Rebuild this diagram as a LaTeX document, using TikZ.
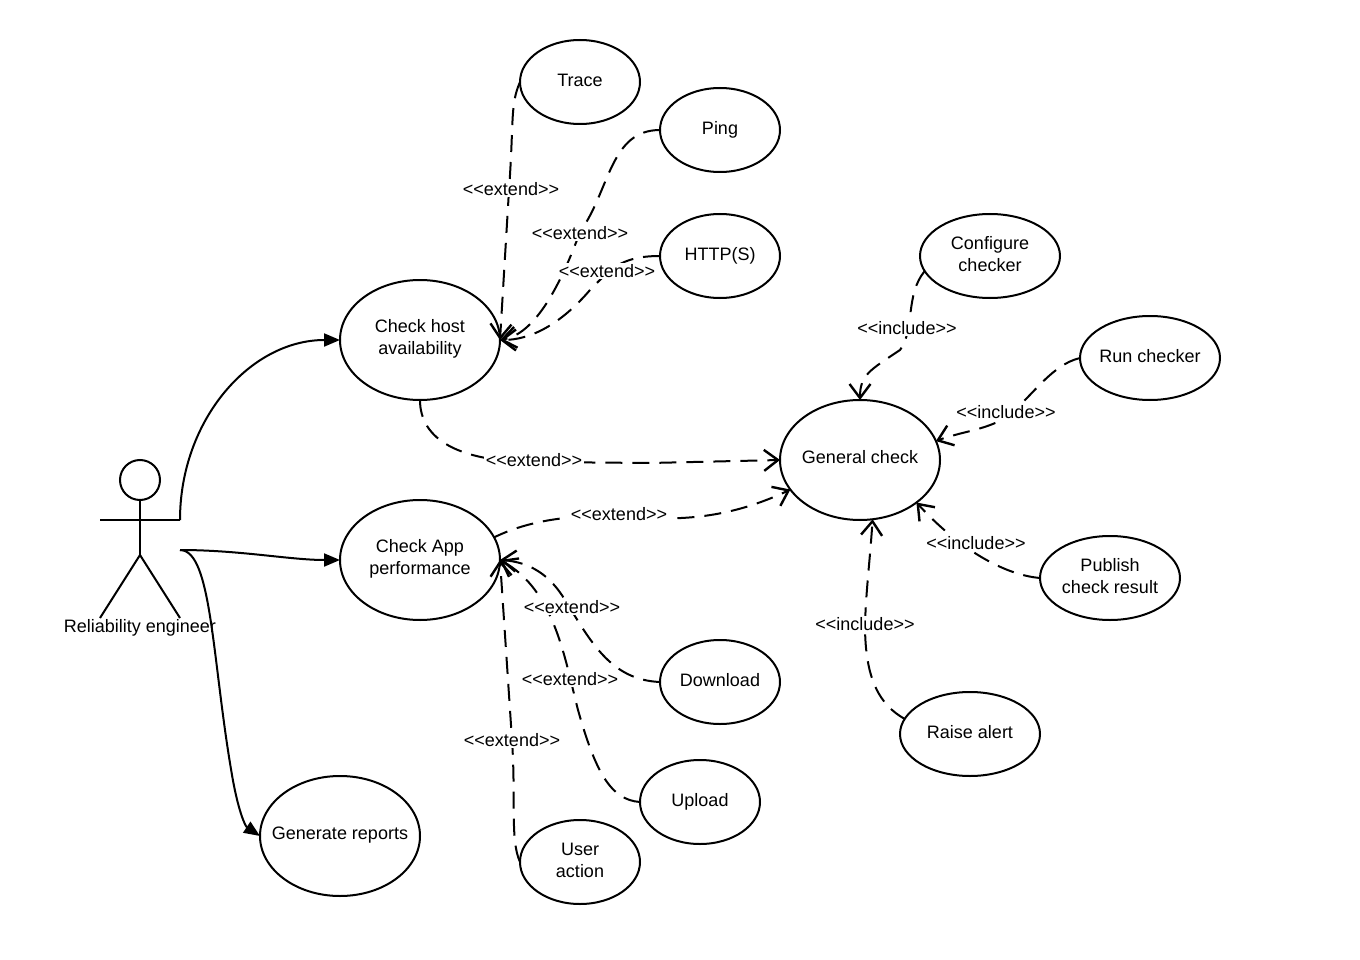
\documentclass[tikz,border=0pt]{standalone}
\usepackage{fontspec}
\setmainfont{Liberation Sans}
\usetikzlibrary{arrows.meta,shapes.geometric}
\newcommand\uct[2][-4pt]{\makebox[0pt]{\raisebox{#1}[0pt][0pt]{\begin{tabular}[c]{@{}c@{}}#2\end{tabular}}}}
\tikzset{
  x=1pt,y=-1pt,
  uc/.style={draw=black,line width=2pt,ellipse,inner sep=0pt,outer sep=0pt,minimum width=#1,align=center,font=\fontsize{18}{22}\selectfont},
  uc/.default=120pt,
  txt/.style={inner sep=1pt,font=\fontsize{18}{22}\selectfont,text=black},
  lbl/.style={fill=white,inner sep=1.5pt,font=\fontsize{18}{22}\selectfont,text=black},
  dep/.style={draw=black,line width=2pt,dash pattern=on 17pt off 10pt,-{Straight Barb[length=14pt,width=21pt,line width=2.4pt]}},
  assoc/.style={draw=black,line width=2pt,-{Triangle[length=16pt,width=13pt]}},
  stick/.style={draw=black,line width=2pt},
}
\begin{document}
\begin{tikzpicture}
\useasboundingbox (0,0) rectangle (1360,960);
% use cases
\node[uc=120pt,minimum height=84pt] (trace) at (580,82) {\uct{Trace}};
\node[uc=120pt,minimum height=84pt] (ping) at (720,130) {\uct{Ping}};
\node[uc=120pt,minimum height=84pt] (http) at (720,256) {\uct{HTTP(S)}};
\node[uc=160pt,minimum height=120pt] (avail) at (420,340) {\uct[-3pt]{Check host\\availability}};
\node[uc=160pt,minimum height=120pt] (perf) at (420,560) {\uct[-3pt]{Check App\\performance}};
\node[uc=160pt,minimum height=120pt] (gen) at (860,460) {\uct[-3pt]{General check}};
\node[uc=160pt,minimum height=120pt] (rep) at (340,836) {\uct[-3pt]{Generate reports}};
\node[uc=140pt,minimum height=84pt] (conf) at (990,256) {\uct{Configure\\checker}};
\node[uc=140pt,minimum height=84pt] (run) at (1150,358) {\uct{Run checker}};
\node[uc=140pt,minimum height=84pt] (pub) at (1110,578) {\uct{Publish\\check result}};
\node[uc=140pt,minimum height=84pt] (alert) at (970,734) {\uct{Raise alert}};
\node[uc=120pt,minimum height=84pt] (down) at (720,682) {\uct{Download}};
\node[uc=120pt,minimum height=84pt] (up) at (700,802) {\uct{Upload}};
\node[uc=120pt,minimum height=84pt] (user) at (580,862) {\uct{User\\action}};
% actor
\node[draw=black,line width=2pt,circle,minimum size=40pt,inner sep=0pt,outer sep=0pt] (head) at (140,480) {};
\coordinate (hip) at (140,555);
\coordinate (handL) at (100,520);
\coordinate (handR) at (180,520);
\coordinate (footL) at (100,618);
\coordinate (footR) at (180,618);
\coordinate (assocB) at (180,550);
\draw[stick] (head.south) -- (hip);
\draw[stick] (handL) -- (handR);
\draw[stick] (footL) -- (hip) -- (footR);
% solid associations
\draw[assoc] (handR) .. controls (180,420) and (250,340) .. (avail.west);
\draw[assoc] (assocB) .. controls (240,550) and (290,560) .. (perf.west);
\draw[assoc] (assocB) .. controls (212,550) and (212,660) .. (232,775) .. controls (238,810) and (245,826) .. (rep.west);
% extend / include
\draw[dep] (trace.west) .. controls (510,105) and (514,120) .. (509,190) -- (avail.east);
\draw[dep] (ping.west) .. controls (610,130) and (610,190) .. (580,232) .. controls (555,300) and (530,335) .. (avail.east);
\draw[dep] (http.west) .. controls (620,256) and (610,270) .. (590,290) .. controls (560,325) and (530,340) .. (avail.east);
\draw[dep] (avail.south) .. controls (420,440) and (460,462) .. (535,462) -- (650,463) -- (gen.west);
\draw[dep,dash phase=2.5pt] (perf.17) .. controls (530,520) and (570,515) .. (620,516) .. controls (680,522) and (730,518) .. (gen.203);
\draw[dep] (down.west) .. controls (610,680) and (590,640) .. (565,600) .. controls (550,575) and (530,562) .. (perf.east);
\draw[dep] (up.west) .. controls (610,800) and (595,770) .. (578,710) .. controls (565,660) and (555,590) .. (perf.east);
\draw[dep] (user.west) .. controls (510,840) and (516,800) .. (512,740) -- (perf.east);
\draw[dep] (conf.193) .. controls (905,295) and (915,330) .. (900,350) .. controls (870,370) and (860,375) .. (gen.north);
\draw[dep] (run.west) .. controls (1050,365) and (1030,400) .. (1005,418) .. controls (985,430) and (960,432) .. (gen.14);
\draw[dep] (pub.west) .. controls (1005,575) and (960,550) .. (gen.-37);
\draw[dep] (alert.167) .. controls (880,705) and (865,680) .. (865,625) .. controls (866,590) and (870,560) .. (gen.-78);
% labels
\node[lbl] (l1) at (511,189) {<{}<extend>{}>};
\node[lbl] (l2) at (580,233) {<{}<extend>{}>};
\node[lbl] (l3) at (607,271) {<{}<extend>{}>};
\node[lbl] (l4) at (534,460) {<{}<extend>{}>};
\node[lbl] (l5) at (619,514) {<{}<extend>{}>};
\node[lbl] (l6) at (572,607) {<{}<extend>{}>};
\node[lbl] (l7) at (570,679) {<{}<extend>{}>};
\node[lbl] (l8) at (512,740) {<{}<extend>{}>};
\node[lbl] (l9) at (907,328) {<{}<include>{}>};
\node[lbl] (l10) at (1006,412) {<{}<include>{}>};
\node[lbl] (l11) at (976,543) {<{}<include>{}>};
\node[lbl] (l12) at (865,624) {<{}<include>{}>};
\node[txt] (actor) at (140,628) {Reliability engineer};
\end{tikzpicture}
\end{document}
